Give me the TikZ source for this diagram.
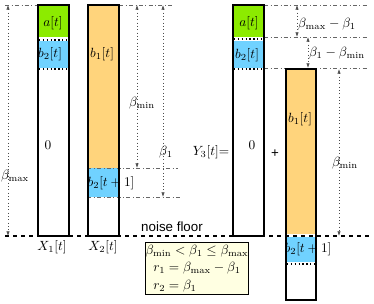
\documentclass[tikz,border=0pt]{standalone}
\usepackage{fontspec}
\newfontfamily\floorfont{Liberation Sans}
\usetikzlibrary{arrows.meta}
\definecolor{segA}{HTML}{8CEB00}
\definecolor{segB}{HTML}{70D2FF}
\definecolor{segC}{HTML}{FFD47C}
\definecolor{notefill}{HTML}{FFFFE2}

\begin{document}
\begin{tikzpicture}[x=0.75pt,y=-0.75pt,
  point/.style={coordinate},
  bar/.style={draw=black, line width=1.4pt},
  sep/.style={draw=black, dotted, line width=0.9pt},
  guide/.style={draw=black!60, dash dot, line width=0.4pt},
  measure/.style={draw=black!70, dotted, line width=0.5pt, {Latex[length=3.5pt,width=2.5pt]}-{Latex[length=3.5pt,width=2.5pt]}},
  lbl/.style={inner sep=0.5pt},
  note/.style={draw=black, line width=0.9pt, fill=notefill, inner sep=0pt, align=center}]
\useasboundingbox (0,0) rectangle (374,303);
% segment fills
\fill[segA] (38,5) rectangle (69,37);
\fill[segB] (38,41) rectangle (69,68);
\fill[segC] (88,5) rectangle (119,168);
\fill[segB] (88,168) rectangle (119,197);
\fill[segA] (233,5) rectangle (264,37);
\fill[segB] (233,41) rectangle (264,68);
\fill[segC] (286,69) rectangle (316,234);
\fill[segB] (286,237) rectangle (316,262);
% dotted separators
\draw[sep] (39,40) -- (68,40);
\draw[sep] (39,69) -- (68,69);
\draw[sep] (234,39) -- (263,39);
\draw[sep] (234,69) -- (263,69);
\draw[sep] (287,264) -- (315,264);
% reference points
\node[point] (x1top) at (5,5) {};
\node[point] (x1topR) at (38,5) {};
\node[point] (x2topL) at (119,5) {};
\node[point] (x2topR) at (174,5) {};
\node[point] (x2midL) at (87,168) {};
\node[point] (x2midR) at (178,168) {};
\node[point] (x2lowL) at (87,197) {};
\node[point] (x2lowR) at (182,197) {};
\node[point] (y3topL) at (264,5) {};
\node[point] (y3topR) at (368,5) {};
\node[point] (y3aL) at (264,37) {};
\node[point] (y3aR) at (368,37) {};
\node[point] (y3bL) at (264,68) {};
\node[point] (y3bR) at (368,68) {};
\node[point] (floorL) at (5,236) {};
\node[point] (floorR) at (371,236) {};
% guides
\draw[guide] (x1top) -- (x1topR);
\draw[guide] (x2topL) -- (x2topR);
\draw[guide] (x2midL) -- (x2midR);
\draw[guide] (x2lowL) -- (x2lowR);
\draw[guide] (y3topL) -- (y3topR);
\draw[guide] (y3aL) -- (y3aR);
\draw[guide] (y3bL) -- (y3bR);
\draw[dashed, line width=0.8pt] (floorL) -- (floorR);
% bars
\draw[bar] (38,5) rectangle (69,236);
\draw[bar] (88,5) rectangle (119,236);
\draw[bar] (233,5) rectangle (264,236);
\draw[bar] (286,69) rectangle (316,300);
% measures
\node[point] (m1a) at (8,5) {};
\node[point] (m1b) at (8,236) {};
\node[point] (m2a) at (137,5) {};
\node[point] (m2b) at (137,168) {};
\node[point] (m3a) at (163,5) {};
\node[point] (m3b) at (163,197) {};
\node[point] (m4a) at (297,5) {};
\node[point] (m4b) at (297,37) {};
\node[point] (m5a) at (308,37) {};
\node[point] (m5b) at (308,68) {};
\node[point] (m6a) at (339,69) {};
\node[point] (m6b) at (339,236) {};
\draw[measure] (m1a) -- (m1b);
\draw[measure] (m2a) -- (m2b);
\draw[measure] (m3a) -- (m3b);
\draw[measure] (m4a) -- (m4b);
\draw[measure] (m5a) -- (m5b);
\draw[measure] (m6a) -- (m6b);
% labels
\node[lbl] (a1) at (53,23) {$a[t]$};
\node[lbl] (b21) at (50,54) {$b_2[t]$};
\node[lbl] (z1) at (48,145) {$0$};
\node[lbl] (b12) at (102,54) {$b_1[t]$};
\node[lbl] (b22) at (111,183) {$b_2[t+1]$};
\node[lbl] (a3) at (249,23) {$a[t]$};
\node[lbl] (b23) at (247,55) {$b_2[t]$};
\node[lbl] (z3) at (252,145) {$0$};
\node[lbl] (b13) at (300,119) {$b_1[t]$};
\node[lbl] (b24) at (308,249) {$b_2[t+1]$};
\node[lbl] (lx1) at (52,247) {$X_1[t]$};
\node[lbl] (lx2) at (103,247) {$X_2[t]$};
\node[lbl] (ly3) at (211,152) {$Y_3[t]$=};
\node[lbl] (plus) at (275,154) {\floorfont +};
\node[lbl] (lmax) at (15,176) {$\beta_{\max}$};
\node[lbl] (lmin) at (142,103) {$\beta_{\min}$};
\node[lbl] (lb1) at (166,152) {$\beta_1$};
\node[lbl] (lr1) at (327,24) {$\beta_{\max}-\beta_1$};
\node[lbl] (lr2) at (337,53) {$\beta_1-\beta_{\min}$};
\node[lbl] (lmin3) at (345,163) {$\beta_{\min}$};
\node[lbl] (floor) at (172,227) {\floorfont noise floor};
\node[note] (cond) at (197,268.5) {\renewcommand{\arraystretch}{1.08}\begin{tabular}{@{}c@{}}
  $\beta_{\min}<\beta_1\leq\beta_{\max}$\\
  \begin{tabular}{@{}l@{}}$r_1=\beta_{\max}-\beta_1$\\ $r_2=\beta_1$\end{tabular}
\end{tabular}};
\end{tikzpicture}
\end{document}
